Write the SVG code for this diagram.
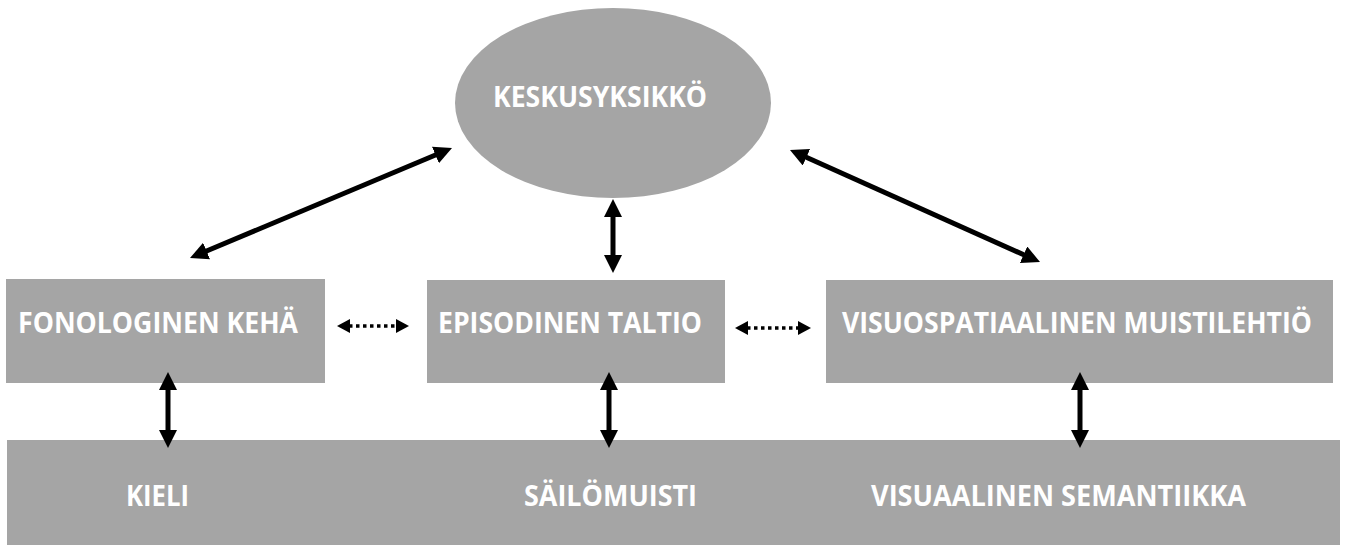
<svg xmlns="http://www.w3.org/2000/svg" width="1346" height="545" viewBox="0 0 1346 545">
<defs>
<style>
.n{fill:#A5A5A5;}
.t{font-family:"Open Sans","Liberation Sans",sans-serif;font-weight:bold;font-size:29px;fill:#FFFFFF;}
.s{stroke:#000;stroke-width:5;fill:none;marker-start:url(#ah);marker-end:url(#ah);}
.d{stroke:#000;stroke-width:3.5;stroke-dasharray:3.5 3.5;fill:none;marker-start:url(#dh);marker-end:url(#dh);}
</style>
<marker id="ah" markerUnits="userSpaceOnUse" viewBox="0 0 18 18" refX="2" refY="9" markerWidth="18" markerHeight="18" orient="auto-start-reverse">
<path d="M0,0 L18,9 L0,18 z" fill="#000"/>
</marker>
<marker id="dh" markerUnits="userSpaceOnUse" viewBox="0 0 13 14" refX="1" refY="7" markerWidth="13" markerHeight="14" orient="auto-start-reverse">
<path d="M0,0 L13,7 L0,14 z" fill="#000"/>
</marker>
</defs>
<g id="keskusyksikko">
<ellipse class="n" cx="613" cy="103" rx="158" ry="95"/>
<text class="t" x="493" y="107" textLength="214" lengthAdjust="spacingAndGlyphs">KESKUSYKSIKKÖ</text>
</g>
<g id="fonologinen">
<rect class="n" x="6" y="279" width="319" height="104"/>
<text class="t" x="18" y="333" textLength="280" lengthAdjust="spacingAndGlyphs">FONOLOGINEN KEHÄ</text>
</g>
<g id="episodinen">
<rect class="n" x="427" y="280" width="298" height="103"/>
<text class="t" x="438" y="333" textLength="264" lengthAdjust="spacingAndGlyphs">EPISODINEN TALTIO</text>
</g>
<g id="visuospatiaalinen">
<rect class="n" x="826" y="280" width="507" height="103"/>
<text class="t" x="842" y="333" textLength="470" lengthAdjust="spacingAndGlyphs">VISUOSPATIAALINEN MUISTILEHTIÖ</text>
</g>
<g id="pitkakestoinen">
<rect class="n" x="7" y="440" width="1333" height="105"/>
<text class="t" x="126" y="506" textLength="63" lengthAdjust="spacingAndGlyphs">KIELI</text>
<text class="t" x="524" y="506" textLength="173" lengthAdjust="spacingAndGlyphs">SÄILÖMUISTI</text>
<text class="t" x="871" y="506" textLength="375" lengthAdjust="spacingAndGlyphs">VISUAALINEN SEMANTIIKKA</text>
</g>
<g id="connectors">
<line class="s" x1="204.75" y1="251.8" x2="437.25" y2="154.2"/>
<line class="s" x1="804.6" y1="156.5" x2="1025.4" y2="255.5"/>
<line class="s" x1="613" y1="215" x2="613" y2="257"/>
<line class="s" x1="168" y1="388" x2="168" y2="432"/>
<line class="s" x1="609" y1="388" x2="609" y2="432"/>
<line class="s" x1="1080" y1="388" x2="1080" y2="432"/>
<line class="d" x1="349" y1="326" x2="397" y2="326"/>
<line class="d" x1="747" y1="328" x2="799" y2="328"/>
</g>
</svg>
